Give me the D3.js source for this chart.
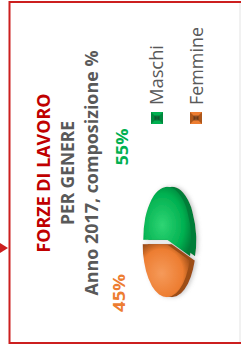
<!DOCTYPE html>
<meta charset="utf-8">
<head>
    <script src="https://d3js.org/d3.v7.min.js"></script>
    <style>
        body { margin: 0; background: #fff; }
        text { font-family: "Open Sans", sans-serif; }
    </style>
</head>
<body>
<script>
    // data
    var categories = ["Maschi", "Femmine"];
    var values = [55, 45];
    var titleLines = ["FORZE DI LAVORO", "PER GENERE", "Anno 2017, composizione %"];

    var W = 244, H = 349;
    var colors = ["#00b050", "#ed7d31"];
    var lights = ["#2fd574", "#f59a5a"];
    var sides = ["#007d38", "#9c4d17"];
    var gray = "#595959", red = "#c00000";

    var svg = d3.select("body").append("svg")
        .attr("width", W).attr("height", H);

    var defs = svg.append("defs");
    colors.forEach(function(c, i) {
        var g = defs.append("radialGradient").attr("id", "top" + i)
            .attr("cx", "45%").attr("cy", "40%").attr("r", "65%");
        g.append("stop").attr("offset", "0%").attr("stop-color", lights[i]);
        g.append("stop").attr("offset", "70%").attr("stop-color", c);
        g.append("stop").attr("offset", "100%").attr("stop-color", sides[i]);
    });
    var f = defs.append("filter").attr("id", "shadow")
        .attr("x", "-20%").attr("y", "-30%").attr("width", "140%").attr("height", "160%");
    f.append("feDropShadow").attr("dx", 0).attr("dy", 2).attr("stdDeviation", 2)
        .attr("flood-color", "#888").attr("flood-opacity", 0.45);

    // the slide is laid out landscape and turned a quarter
    var slide = svg.append("g")
        .attr("transform", "translate(0," + H + ") rotate(-90)");

    // frame
    slide.append("line")
        .attr("x1", 6).attr("x2", 347).attr("y1", 240).attr("y2", 240)
        .attr("stroke", "#ececec").attr("stroke-width", 1.5);
    slide.append("path")
        .attr("d", "M6,241V9.5H347V241")
        .attr("fill", "none").attr("stroke", "#cc1f1f").attr("stroke-width", 2);
    slide.append("path")
        .attr("d", "M96,0L106,0L101,8Z")
        .attr("fill", "#cc1f1f");

    // titles
    var titleLen = [159, 104, 245];
    slide.selectAll(".title")
        .data(titleLines)
        .enter()
        .append("text")
        .attr("class", "title")
        .attr("x", 176)
        .attr("y", function(d, i) { return 50 + i * 24; })
        .attr("text-anchor", "middle")
        .attr("font-size", 18.5)
        .attr("font-weight", 700)
        .attr("fill", function(d, i) { return i == 0 ? red : gray; })
        .attr("textLength", function(d, i) { return titleLen[i]; })
        .attr("lengthAdjust", "spacingAndGlyphs")
        .text(function(d) { return d; });

    // pie
    var R = 53, cx = 107, cy = 167, flat = 24 / 53, depth = 5, explode = 2.2;
    var slices = d3.pie().sort(null)(values);
    var arc = d3.arc().innerRadius(0).outerRadius(R);

    function shift(d) {
        var a = (d.startAngle + d.endAngle) / 2;
        return [Math.sin(a) * explode, -Math.cos(a) * explode];
    }

    var pieG = slide.append("g").attr("filter", "url(#shadow)");
    pieG.selectAll(".side")
        .data(slices)
        .enter()
        .append("path")
        .attr("class", "side")
        .attr("transform", function(d) {
            var s = shift(d);
            return "translate(" + (cx + s[0]) + "," + (cy + depth + s[1] * flat) + ") scale(1," + flat + ")";
        })
        .attr("d", arc)
        .attr("fill", function(d, i) { return sides[i]; });
    pieG.selectAll(".top")
        .data(slices)
        .enter()
        .append("path")
        .attr("class", "top")
        .attr("transform", function(d) {
            var s = shift(d);
            return "translate(" + (cx + s[0]) + "," + (cy + s[1] * flat) + ") scale(1," + flat + ")";
        })
        .attr("d", arc)
        .attr("fill", function(d, i) { return "url(#top" + i + ")"; });

    // percent labels
    var pctPos = [[202, 128], [56, 125]];
    slide.selectAll(".pct")
        .data(slices)
        .enter()
        .append("text")
        .attr("class", "pct")
        .attr("x", function(d, i) { return pctPos[i][0]; })
        .attr("y", function(d, i) { return pctPos[i][1]; })
        .attr("text-anchor", "middle")
        .attr("font-size", 16.5)
        .attr("font-weight", 700)
        .attr("fill", function(d, i) { return colors[i]; })
        .attr("textLength", function(d, i) { return [37, 38][i]; })
        .attr("lengthAdjust", "spacingAndGlyphs")
        .text(function(d) { return d.data + "%"; });

    // legend
    var ly = d3.scalePoint().domain(categories).range([157, 196]);
    var legend = slide.append("g").attr("id", "legend");
    var items = legend.selectAll("g")
        .data(categories)
        .enter()
        .append("g")
        .attr("transform", function(d) { return "translate(231," + ly(d) + ")"; });
    items.append("rect")
        .attr("x", -6).attr("y", -6).attr("width", 12).attr("height", 12)
        .attr("fill", function(d, i) { return colors[i]; });
    items.append("path")
        .attr("d", "M-6,-6L6,-6L0,0ZM-6,6L6,6L0,0Z")
        .attr("fill", function(d, i) { return sides[i]; })
        .attr("opacity", 0.8);
    items.append("path")
        .attr("d", "M-2.5,-2.5L2.5,-2.5L2.5,2.5L-2.5,2.5Z")
        .attr("fill", "#1d1d1d")
        .attr("opacity", 0.45);
    items.append("text")
        .attr("x", 13)
        .attr("y", function(d, i) { return 6 + i; })
        .attr("font-size", 18)
        .attr("fill", gray)
        .attr("textLength", function(d, i) { return [60, 78][i]; })
        .attr("lengthAdjust", "spacingAndGlyphs")
        .text(function(d) { return d; });
</script>
</body>
</html>
